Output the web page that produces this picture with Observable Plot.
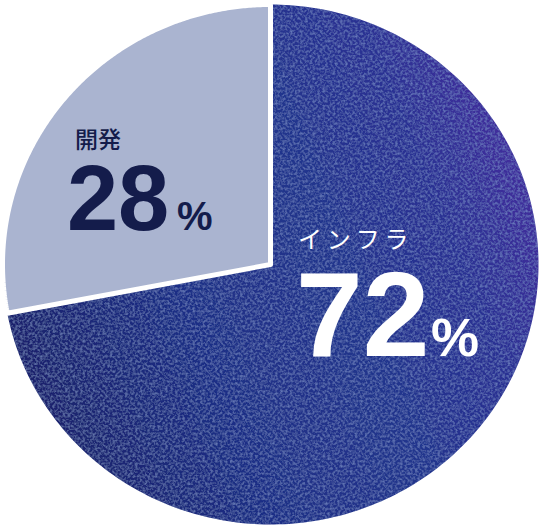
<!DOCTYPE html>
<html>
<head>
<meta charset="utf-8">
<script src="https://cdn.jsdelivr.net/npm/d3@7"></script>
<script src="https://cdn.jsdelivr.net/npm/@observablehq/plot@0.6"></script>
<style>
  html, body { margin: 0; padding: 0; background: #fff; }
  #chart { width: 547px; height: 531px; }
  svg { display: block; }
</style>
</head>
<body>
<div id="chart"></div>
<script>
// ---- data ----
const categories = ["インフラ", "開発"];
const values = [72, 28];
const suffix = "%";

// ---- style ----
const devColor = "#aab4d0";
const devText = "#141c4b";
const infraText = "#ffffff";

const W = 547, H = 531;
const cx = 270, cy = 264, rx = 268, ry = 260;

// build slice outlines in data space (unit circle, clockwise from top)
const arcs = d3.pie().sort(null).value(d => d.value)(
  categories.map((c, i) => ({category: c, value: values[i]}))
);
const N = 240;
const slices = arcs.map(a => {
  const pts = [{category: a.data.category, x: 0, y: 0}];
  for (let k = 0; k <= N; k++) {
    const t = a.startAngle + (a.endAngle - a.startAngle) * k / N;
    pts.push({category: a.data.category, x: Math.sin(t), y: Math.cos(t)});
  }
  pts.push({category: a.data.category, x: 0, y: 0});
  return pts;
});
const centroids = arcs.map(a => {
  const m = (a.startAngle + a.endAngle) / 2;
  return {category: a.data.category, value: a.data.value, x: Math.sin(m) * 0.55, y: Math.cos(m) * 0.55};
});

const infra = centroids[0], dev = centroids[1];
const jp = "'Noto Sans CJK JP', 'Noto Sans', sans-serif";
const num = "'Liberation Sans', Arial, Helvetica, sans-serif";

const plot = Plot.plot({
  width: W, height: H,
  margin: 0,
  x: {domain: [-1, 1], range: [cx - rx, cx + rx], axis: null},
  y: {domain: [-1, 1], range: [cy + ry, cy - ry], axis: null},
  marks: [
    Plot.line(slices[0], {x: "x", y: "y", fill: "url(#infraGrad)", stroke: "none"}),
    Plot.line(slices[1], {x: "x", y: "y", fill: devColor, stroke: "white", strokeWidth: 5, strokeLinejoin: "miter"}),
    // dev labels
    Plot.text([dev], {x: "x", y: "y", text: d => d.category, dx: -82, dy: -25, textAnchor: "start", lineAnchor: "bottom", fill: devText, fontSize: 23, fontWeight: 500, fontFamily: jp}),
    Plot.text([dev], {x: "x", y: "y", text: d => String(d.value), dx: -90, dy: 57, textAnchor: "start", lineAnchor: "bottom", fill: devText, fontSize: 92, fontWeight: 700, fontFamily: num}),
    Plot.text([dev], {x: "x", y: "y", text: () => suffix, dx: 20, dy: 57, textAnchor: "start", lineAnchor: "bottom", fill: devText, fontSize: 40, fontWeight: 700, fontFamily: num}),
    // infra labels
    Plot.text([infra], {x: "x", y: "y", text: d => d.category.split("").join("\u2009"), dx: -86, dy: -108, textAnchor: "start", lineAnchor: "bottom", fill: infraText, fontSize: 24, fontWeight: 400, fontFamily: jp}),
    Plot.text([infra], {x: "x", y: "y", text: d => String(d.value), dx: -88, dy: 0, textAnchor: "start", lineAnchor: "bottom", fill: infraText, fontSize: 120, fontWeight: 700, fontFamily: num}),
    Plot.text([infra], {x: "x", y: "y", text: () => suffix, dx: 47, dy: 0, textAnchor: "start", lineAnchor: "bottom", fill: infraText, fontSize: 54, fontWeight: 700, fontFamily: num})
  ]
});

// gradient + texture defs
const svg = d3.select(plot);
const defs = svg.insert("defs", ":first-child");
const g = defs.append("linearGradient").attr("id", "infraGrad")
  .attr("x1", "0").attr("y1", "0.75").attr("x2", "1").attr("y2", "0.35");
[[0, "#1a2168", "1"], [0.35, "#1f2f86"], [0.6, "#22358c"], [0.82, "#2b3193"], [1, "#432e9d"]]
  .forEach(([o, c]) => g.append("stop").attr("offset", o).attr("stop-color", c));
const f = defs.append("filter").attr("id", "grain")
  .attr("x", "0").attr("y", "0").attr("width", "100%").attr("height", "100%");
f.append("feTurbulence").attr("type", "fractalNoise").attr("baseFrequency", "0.4")
  .attr("numOctaves", "2").attr("seed", "7").attr("result", "t");
f.append("feColorMatrix").attr("in", "t").attr("type", "matrix")
  .attr("values", "0 0 0 0 0.28  0 0 0 0 0.4  0 0 0 0 0.78  0.9 0 0 0 -0.36").attr("result", "n");
f.append("feComposite").attr("in", "n").attr("in2", "SourceGraphic").attr("operator", "in").attr("result", "nc");
const fm = f.append("feMerge");
fm.append("feMergeNode").attr("in", "SourceGraphic");
fm.append("feMergeNode").attr("in", "nc");
svg.select("g[fill='url(#infraGrad)']").attr("filter", "url(#grain)");

document.getElementById("chart").appendChild(plot);
</script>
</body>
</html>
